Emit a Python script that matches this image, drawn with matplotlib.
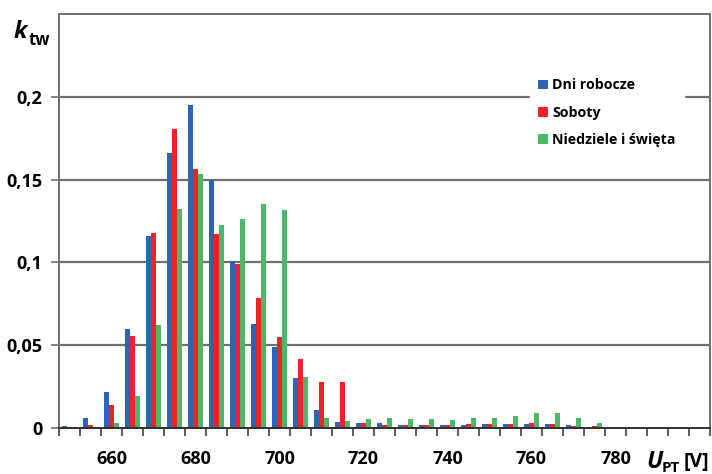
import numpy as np
import matplotlib.pyplot as plt
from matplotlib.ticker import FixedLocator, FixedFormatter

# voltage classes (V), 5 V wide
napiecia = list(range(650, 805, 5))

dni_robocze = [0.001, 0.006, 0.022, 0.060, 0.116, 0.166, 0.195, 0.150, 0.101, 0.063,
               0.049, 0.030, 0.011, 0.0035, 0.0028, 0.0028, 0.002, 0.002, 0.0016, 0.0016,
               0.0026, 0.0022, 0.0022, 0.0026, 0.0018, 0.0, 0.0, 0.0, 0.0, 0.0, 0.0]
soboty = [0.0, 0.0018, 0.014, 0.0555, 0.118, 0.1805, 0.1565, 0.117, 0.099, 0.0785,
          0.055, 0.0415, 0.028, 0.0275, 0.0028, 0.002, 0.002, 0.002, 0.0016, 0.0022,
          0.0026, 0.0026, 0.0032, 0.0026, 0.0012, 0.0012, 0.0, 0.0, 0.0, 0.0, 0.0]
niedziele = [0.0, 0.0, 0.0032, 0.0195, 0.062, 0.1325, 0.1535, 0.1225, 0.1265, 0.1355,
             0.1315, 0.031, 0.0058, 0.0042, 0.0052, 0.0058, 0.0052, 0.0052, 0.0048, 0.0058,
             0.0058, 0.0072, 0.0088, 0.0088, 0.0058, 0.0028, 0.0, 0.0, 0.0, 0.0, 0.0]

serie = ["Dni robocze", "Soboty", "Niedziele i święta"]
kolory = ["#2E63B6", "#EE2328", "#4BB868"]
y_ticki = [0, 0.05, 0.1, 0.15, 0.2]
y_etykiety = ["0", "0,05", "0,1", "0,15", "0,2"]

plt.rcParams['font.family'] = ['Open Sans', 'DejaVu Sans']
plt.rcParams['font.weight'] = 'bold'

fig = plt.figure(figsize=(7.12, 4.74), dpi=100)
ax = fig.add_axes([59 / 712, 46 / 474, 651 / 712, 414 / 474])

x = np.arange(len(napiecia))
w = 5 / 21
for i, (dane, nazwa, kol) in enumerate(zip([dni_robocze, soboty, niedziele], serie, kolory)):
    ax.bar(x + (i - 1) * w, dane, width=w, color=kol, label=nazwa, zorder=3)

ax.set_xlim(-0.5, len(napiecia) - 0.5)
ax.set_ylim(0, 0.25)

# grid lines
for yv in y_ticki[1:]:
    ax.axhline(yv, color="#707070", lw=1.6, zorder=1)

ax.yaxis.set_major_locator(FixedLocator(y_ticki))
ax.yaxis.set_major_formatter(FixedFormatter(y_etykiety))
ax.tick_params(axis='y', length=6, width=1.2, color="#707070", pad=6, labelsize=13)

# category boundaries as ticks, labels every 4th class
ax.xaxis.set_major_locator(FixedLocator(np.arange(len(napiecia) + 1) - 0.5))
ax.xaxis.set_major_formatter(FixedFormatter([""] * (len(napiecia) + 1)))
lab_idx = [i for i, v in enumerate(napiecia) if v % 20 == 0 and 660 <= v <= 780]
ax.xaxis.set_minor_locator(FixedLocator(lab_idx))
ax.xaxis.set_minor_formatter(FixedFormatter([str(napiecia[i]) for i in lab_idx]))
ax.tick_params(axis='x', which='major', length=6, width=1.2, color="#404040")
ax.tick_params(axis='x', which='minor', length=0, pad=16, labelsize=13)

for s in ['left', 'top', 'right']:
    ax.spines[s].set_color("#707070")
    ax.spines[s].set_linewidth(1.4)
ax.spines['bottom'].set_color("#303030")
ax.spines['bottom'].set_linewidth(1.4)
ax.spines['bottom'].set_zorder(4)

leg = ax.legend(loc='upper left', bbox_to_anchor=(0.712, 0.882), frameon=True,
                fancybox=False, edgecolor='white', framealpha=1,
                prop={'size': 10.2, 'weight': 'bold'},
                handlelength=0.7, handleheight=0.7, handletextpad=0.3,
                labelspacing=0.95, borderpad=0.6)
leg.set_zorder(5)

# axis titles
fig.text(14 / 712, 1 - 38 / 474, "k", fontsize=17, style='italic', weight='bold')
fig.text(29 / 712, 1 - 45 / 474, "tw", fontsize=12, weight='bold')
fig.text(646 / 712, 1 - 468 / 474, "U", fontsize=17, style='italic', weight='bold')
fig.text(662 / 712, 1 - 472 / 474, "PT", fontsize=11, weight='bold')
fig.text(684 / 712, 1 - 467 / 474, "[V]", fontsize=14, weight='bold')

fig.savefig("out.png", dpi=100)
